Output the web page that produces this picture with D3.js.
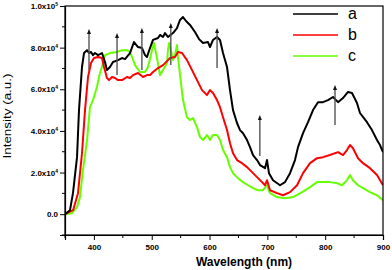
<!DOCTYPE html>
<html>
<head>
<meta charset="utf-8">
<script src="https://cdn.jsdelivr.net/npm/d3@7"></script>
<style>
  body { margin: 0; background: #fff; }
  svg text { font-family: "Liberation Sans", Arial, sans-serif; }
</style>
</head>
<body>
<div id="chart"></div>
<script>
// spectra: [wavelength nm, intensity a.u.]
var seriesA = [[350,0],[358.6,1900],[363.8,10100],[370.8,27400],[374.2,50000],[379.4,70700],[382.9,77400],[388.1,78800],[391.5,77400],[395,77900],[398.4,76400],[401.9,77400],[407.1,76400],[414,77400],[419.2,73100],[422.6,69200],[427.8,70700],[433,73100],[441.7,74000],[448.6,75000],[453.8,74500],[462.4,77400],[469.3,82700],[476.3,80300],[483.2,79800],[488.4,76400],[491.8,75500],[497,79800],[502.2,83700],[510.9,84600],[514.3,86100],[519.5,85100],[523,87000],[528.1,85100],[536.8,87000],[543.7,89400],[548.9,93300],[554.1,94700],[559.3,92800],[566.2,90900],[574.8,87500],[581.8,84100],[588.7,82200],[597.3,82700],[600.8,80300],[606,83700],[612.9,85100],[618.1,83700],[623.3,77400],[630.2,70700],[635.4,59600],[640.6,50000],[647.5,43800],[652.7,40400],[657.9,38900],[664.8,35600],[670,32200],[675.2,28400],[682.1,26000],[687.3,23600],[696,22100],[699.4,26000],[702.8,19700],[709.8,16300],[721.9,13900],[730.5,15400],[739.2,19700],[747.8,26000],[753,32200],[761.7,38900],[770.3,44200],[779,50000],[787.6,53800],[796.2,53800],[804.9,54800],[813.5,56300],[822.2,53800],[830.8,55800],[839.5,58700],[846.4,58200],[855,53400],[860.2,48600],[872.3,44200],[880.9,40400],[889.6,35600],[894.8,33200],[900,29800]];
var seriesB = [[350,0],[364,1900],[372.5,10100],[379.4,29300],[384.6,50000],[389.8,65900],[395,72600],[400.2,75000],[407.1,75500],[414,75000],[417.5,70700],[422.6,65400],[426.1,64400],[431.3,65900],[436.5,65400],[441.7,64400],[448.6,64400],[457.2,65900],[462.4,65400],[467.6,66800],[476.3,67800],[484.9,65900],[491.8,66800],[497,66800],[502.2,68300],[510.9,70200],[519.5,71600],[528.1,74000],[531.6,75000],[540.3,75500],[545.4,77900],[552.4,77400],[561,74000],[569.7,69200],[578.3,64400],[587,59600],[595.6,57200],[600.8,59600],[606,58200],[612.9,54800],[618.1,51400],[623.3,46600],[630.2,40400],[635.4,34100],[640.6,29300],[647.5,26000],[656.1,24500],[664.8,22600],[673.5,20200],[682.1,17800],[690.8,15400],[696,13900],[699.4,16300],[704.6,11500],[716.7,10100],[727.1,9100],[739.2,10600],[751.3,13900],[761.7,19700],[773.8,24500],[785.9,26900],[796.2,27400],[808.3,28400],[817,29300],[822.2,29800],[830.8,28400],[837.7,30800],[842.9,33200],[848.1,31700],[856.8,26900],[865.4,24500],[877.5,22100],[889.6,18800],[900,13900]];
var seriesC = [[350,0],[362,500],[370.8,3400],[375.9,8200],[381.1,21200],[388.1,35600],[393.2,51400],[398.4,54800],[405.3,61100],[408.8,65900],[415.7,72600],[419.2,76400],[427.8,77400],[439.9,77900],[448.6,78800],[457.2,78800],[462.4,77900],[465.9,75500],[471.1,71600],[479.7,68300],[488.4,68300],[493.6,70700],[500.5,78800],[503.9,82200],[509.1,75000],[514.3,66800],[519.5,69200],[526.4,72600],[528.1,78800],[529.9,82200],[533.3,78800],[536.8,74000],[540.3,76400],[543.7,81300],[545.4,75500],[550.6,63000],[554.1,54800],[561,46600],[566.2,45200],[571.4,46200],[578.3,41800],[583.5,37000],[588.7,35600],[595.6,38000],[600.8,35600],[606,38000],[612.9,38000],[618.1,35600],[623.3,30800],[630.2,27400],[635.4,22600],[640.6,19700],[649.2,17300],[657.9,15400],[666.5,13900],[675.2,12500],[683.8,11500],[692.5,11500],[699.4,13900],[704.6,10100],[716.7,8200],[730.5,7700],[744.4,8200],[760,10600],[773.8,13000],[785.9,15400],[796.2,15400],[808.3,15400],[820.4,14900],[829.1,13900],[837.7,16300],[842.9,18800],[848.1,16300],[856.8,13900],[865.4,12500],[877.5,10600],[889.6,9100],[900,6700]];

var seriesNames = ["a", "b", "c"];
var seriesColors = ["#000000", "#ff0000", "#66ff00"];

// arrows: [wavelength, from, to]
var arrows = [[391.5,69200,88900],[440,66800,87000],[483,69200,89400],[533,71600,91800],[613,70200,89400],[687,27900,47600],[817,42800,62000]];

var xTicks = [400, 500, 600, 700, 800, 900];
var yTicks = [0, 20000, 40000, 60000, 80000, 100000];
var yTickLabels = [["0.0",""],["2.0x10","4"],["4.0x10","4"],["6.0x10","4"],["8.0x10","4"],["1.0x10","5"]];

var W = 392, H = 270;
var margin = {top: 6, right: 9, bottom: 35, left: 65};

var svg = d3.select("#chart").append("svg").attr("width", W).attr("height", H);

var x = d3.scaleLinear().domain([350, 900]).range([margin.left, W - margin.right]);
var y = d3.scaleLinear().domain([-10000, 100000]).range([H - margin.bottom, margin.top]);

svg.append("clipPath").attr("id", "clip").append("rect")
  .attr("x", margin.left).attr("y", margin.top)
  .attr("width", W - margin.left - margin.right).attr("height", H - margin.top - margin.bottom);

var line = d3.line().x(d => x(d[0])).y(d => y(d[1]));

var allSeries = [seriesA, seriesB, seriesC];
// draw c under b under a
[2, 1, 0].forEach(function(i) {
  svg.append("path").datum(allSeries[i])
    .attr("clip-path", "url(#clip)")
    .attr("fill", "none")
    .attr("stroke", seriesColors[i])
    .attr("stroke-width", 2)
    .attr("stroke-linejoin", "round")
    .attr("d", line);
});

// arrows
svg.selectAll("line.arrow").data(arrows).enter().append("line")
  .attr("class", "arrow")
  .attr("x1", d => x(d[0])).attr("x2", d => x(d[0]))
  .attr("y1", d => y(d[1])).attr("y2", d => y(d[2]) + 3)
  .attr("stroke", "#555").attr("stroke-width", 1.4);
svg.selectAll("path.head").data(arrows).enter().append("path")
  .attr("class", "head")
  .attr("d", d => { var cx = x(d[0]), cy = y(d[2]); return "M" + (cx - 2) + "," + (cy + 5) + "L" + cx + "," + cy + "L" + (cx + 2) + "," + (cy + 5) + "Z"; })
  .attr("fill", "#111");

// frame
svg.append("rect")
  .attr("x", margin.left).attr("y", margin.top)
  .attr("width", W - margin.left - margin.right).attr("height", H - margin.top - margin.bottom)
  .attr("fill", "none").attr("stroke", "#000").attr("stroke-width", 1.2);

// x axis
var xMinor = d3.range(350, 901, 50).filter(v => v % 100 !== 0);
var gx = svg.append("g").attr("transform", "translate(0," + (H - margin.bottom) + ")");
gx.call(d3.axisBottom(x).tickValues(xTicks).tickSize(5).tickFormat(d3.format("d")));
gx.selectAll(".minor").data(xMinor).enter().append("line")
  .attr("x1", d => x(d)).attr("x2", d => x(d)).attr("y1", 0).attr("y2", 3)
  .attr("stroke", "#000");
gx.select(".domain").attr("stroke-width", 1.2);
gx.selectAll("text").attr("font-size", 8).attr("font-weight", "bold").attr("dy", "0.9em")
  .attr("font-family", "Liberation Sans, Arial, sans-serif");

// y axis
var yMinor = d3.range(-10000, 100001, 20000);
var gy = svg.append("g").attr("transform", "translate(" + margin.left + ",0)");
gy.call(d3.axisLeft(y).tickValues(yTicks).tickSize(5).tickFormat(""));
gy.selectAll(".minor").data(yMinor).enter().append("line")
  .attr("x1", 0).attr("x2", -3).attr("y1", d => y(d)).attr("y2", d => y(d))
  .attr("stroke", "#000");
gy.select(".domain").attr("stroke-width", 1.2);
gy.selectAll(".tick").each(function(d) {
  var t = d3.select(this).select("text").text(null)
    .attr("font-size", 8).attr("font-weight", "bold").attr("x", -7)
    .attr("font-family", "Liberation Sans, Arial, sans-serif");
  var lab = yTickLabels[yTicks.indexOf(d)];
  t.append("tspan").text(lab[0]);
  if (lab[1]) t.append("tspan").attr("font-size", 5).attr("dy", "-0.6em").text(lab[1]);
});

// axis titles
svg.append("text").attr("x", 244).attr("y", 266)
  .attr("text-anchor", "middle").attr("font-size", 12).attr("font-weight", "bold")
  .text("Wavelength (nm)");
svg.append("text").attr("transform", "translate(11,116) rotate(-90)")
  .attr("text-anchor", "middle").attr("font-size", 11)
  .attr("textLength", 85).attr("lengthAdjust", "spacingAndGlyphs")
  .text("Intensity (a.u.)");

// legend
var legend = svg.append("g");
seriesNames.forEach(function(n, i) {
  var ly = 14 + i * 21;
  legend.append("line").attr("x1", 293).attr("x2", 338).attr("y1", ly).attr("y2", ly)
    .attr("stroke", seriesColors[i]).attr("stroke-width", 1.5);
  legend.append("text").attr("x", 348).attr("y", ly + 5).attr("font-size", 16).text(n);
});
</script>
</body>
</html>
